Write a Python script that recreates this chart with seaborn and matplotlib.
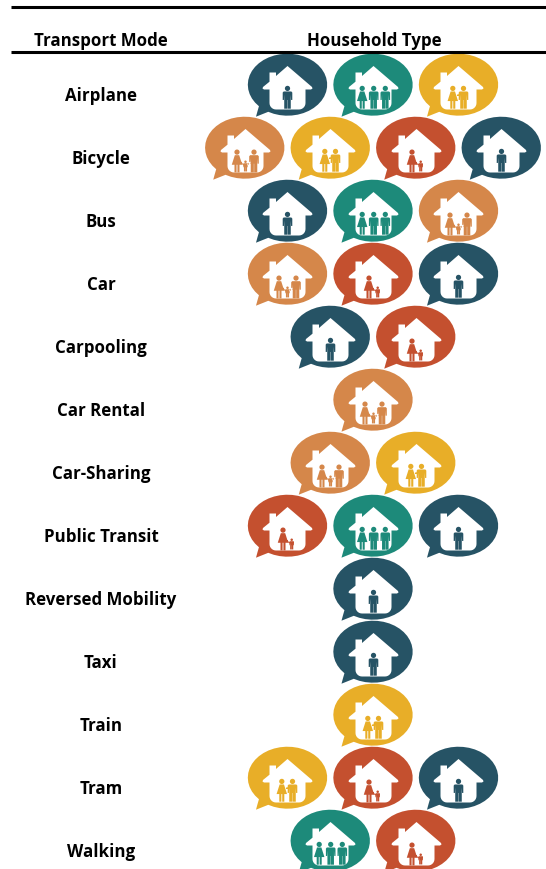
# plot.py
# Transport mode vs household type, icon table
import numpy as np
import pandas as pd
import matplotlib
matplotlib.use("Agg")
import matplotlib.pyplot as plt
from matplotlib.path import Path
import seaborn as sns

MODES = ["Airplane", "Bicycle", "Bus", "Car", "Carpooling", "Car Rental", "Car-Sharing",
         "Public Transit", "Reversed Mobility", "Taxi", "Train", "Tram", "Walking"]
HOUSEHOLDS = [
    ["single", "shared", "couple"],
    ["family", "couple", "parent", "single"],
    ["single", "shared", "family"],
    ["family", "parent", "single"],
    ["single", "parent"],
    ["family"],
    ["family", "couple"],
    ["parent", "shared", "single"],
    ["single"],
    ["single"],
    ["couple"],
    ["couple", "parent", "single"],
    ["shared", "parent"],
]
COLORS = {"single": "#265365", "shared": "#1D8A7A", "couple": "#E8AE28",
          "family": "#D5874A", "parent": "#C4502F"}
HEADERS = ["Transport Mode", "Household Type"]

W, H, DPI = 546, 870, 100
SLOT_PX, ROW_PX = 85.5, 63
X0, Y0 = 373, 85.7   # pixel position of the middle slot, first row
LABEL_X = (101 - X0) / SLOT_PX

sns.set_theme(style="white")
plt.rcParams["font.family"] = ["Open Sans", "DejaVu Sans"]


# glyphs are written in pixels around the bubble centre, y down
def poly(pts):
    return np.array(pts, dtype=float)


def oval(cx, cy, a, b, start=0, stop=360, n=40):
    t = np.radians(np.linspace(start, stop, n))
    return np.column_stack([cx + a * np.cos(t), cy + b * np.sin(t)])


def make_path(polys):
    verts, codes = [], []
    for p in polys:
        verts.extend(p.tolist() + [p[0].tolist()])
        codes.extend([Path.MOVETO] + [Path.LINETO] * (len(p) - 1) + [Path.CLOSEPOLY])
    return Path(np.array(verts) * [1, -1], codes)


def man(cx, top=0.3, u=1.09):
    return [
        oval(cx, top + 2.4 * u, 2.4 * u, 2.4 * u),
        poly([(cx - 4.4 * u, top + 6.2 * u), (cx - 3.5 * u, top + 5.2 * u), (cx + 3.5 * u, top + 5.2 * u),
              (cx + 4.4 * u, top + 6.2 * u), (cx + 4.4 * u, top + 13 * u), (cx + 3.3 * u, top + 13 * u),
              (cx + 3 * u, top + 8 * u), (cx + 3 * u, top + 21 * u), (cx + 0.15 * u, top + 21 * u),
              (cx + 0.15 * u, top + 13 * u), (cx - 0.15 * u, top + 13 * u), (cx - 0.15 * u, top + 21 * u),
              (cx - 3 * u, top + 21 * u), (cx - 3 * u, top + 8 * u), (cx - 3.3 * u, top + 13 * u),
              (cx - 4.4 * u, top + 13 * u)]),
    ]


def woman(cx, top=0.3, u=1.09):
    return [
        oval(cx, top + 2.4 * u, 2.4 * u, 2.4 * u),
        poly([(cx - 2 * u, top + 5.2 * u), (cx + 2 * u, top + 5.2 * u), (cx + 4.8 * u, top + 14 * u),
              (cx + 2.3 * u, top + 14 * u), (cx + 2.3 * u, top + 21 * u), (cx + 0.4 * u, top + 21 * u),
              (cx + 0.4 * u, top + 14 * u), (cx - 0.4 * u, top + 14 * u), (cx - 0.4 * u, top + 21 * u),
              (cx - 2.3 * u, top + 21 * u), (cx - 2.3 * u, top + 14 * u), (cx - 4.8 * u, top + 14 * u)]),
    ]


# curved tail, lower left
BUBBLE = make_path([np.vstack([oval(0, 0, 39.7, -31, 241, 584),
                               [(-30, 26.5), (-31.5, 32), (-26, 29.8)]])])

HOUSE = make_path([np.vstack([
    [(0, -19.5), (24.5, 1.5), (25, 3), (23.5, 4), (18, 4), (18, 17)],
    oval(11.5, 17.5, 6.5, 6.5, 0, 90, 8),
    oval(-11.5, 17.5, 6.5, 6.5, 90, 180, 8),
    [(-18, 4), (-23.5, 4), (-25, 3), (-24.5, 1.5), (-18, -3.8), (-18, -13), (-11.5, -13), (-11.5, -9.5)],
])])

PEOPLE = {
    "single": make_path(man(0)),
    "shared": make_path(woman(-11.3) + man(0.2) + man(11.8)),
    "couple": make_path(woman(-5.7) + man(5) + [poly([(-1.5, 9), (1, 9), (1, 10.5), (-1.5, 10.5)])]),
    "family": make_path(woman(-8.5, 1) + man(0, 12, 0.52) + man(8.5, 1)
                        + [poly([(-4.5, 13), (-2, 16), (-2, 17), (-5, 14)]),
                           poly([(4.5, 13), (2, 16), (2, 17), (5, 14)])]),
    "parent": make_path(woman(-4.5, 1) + man(4.2, 12, 0.52)
                        + [poly([(-1, 13), (2, 16), (2, 17), (-1.5, 14)])]),
}


def marker_size(path):
    # matplotlib rescales a path marker by its largest coordinate
    return (2 * np.abs(path.vertices).max() * 72 / DPI) ** 2


rows = []
for r, kinds in enumerate(HOUSEHOLDS):
    for j, kind in enumerate(kinds):
        rows.append({"slot": j - (len(kinds) - 1) / 2, "row": r, "household": kind})
df = pd.DataFrame(rows)

fig = plt.figure(figsize=(W / DPI, H / DPI), dpi=DPI)
ax = fig.add_axes([0, 0, 1, 1])

sns.scatterplot(data=df, x="slot", y="row", hue="household", palette=COLORS, marker=BUBBLE,
                s=marker_size(BUBBLE), linewidth=0, legend=False, ax=ax, zorder=2)
sns.scatterplot(data=df, x="slot", y="row", color="white", marker=HOUSE,
                s=marker_size(HOUSE), linewidth=0, legend=False, ax=ax, zorder=3)
for kind, path in PEOPLE.items():
    sns.scatterplot(data=df[df["household"] == kind], x="slot", y="row", color=COLORS[kind], marker=path,
                    s=marker_size(path), linewidth=0, legend=False, ax=ax, zorder=4)

ax.set_xlim(-X0 / SLOT_PX, (W - X0) / SLOT_PX)
ax.set_ylim((H - Y0) / ROW_PX, -Y0 / ROW_PX)
ax.axis("off")

for r, mode in enumerate(MODES):
    ax.text(LABEL_X, r + 10.2 / ROW_PX, mode, ha="center", va="center", fontsize=12.2,
            fontweight="bold", color="black")

for name, x_px in zip(HEADERS, [100.5, 374]):
    ax.text(x_px / W, 1 - 40.7 / H, name, transform=ax.transAxes, ha="center", va="center",
            fontsize=12.2, fontweight="bold", color="black")
for y_px in [7.6, 52.6]:
    ax.plot([11 / W, 1], [1 - y_px / H] * 2, transform=ax.transAxes, color="black", lw=2.2,
            solid_capstyle="butt")

fig.savefig("out.png", dpi=DPI)
